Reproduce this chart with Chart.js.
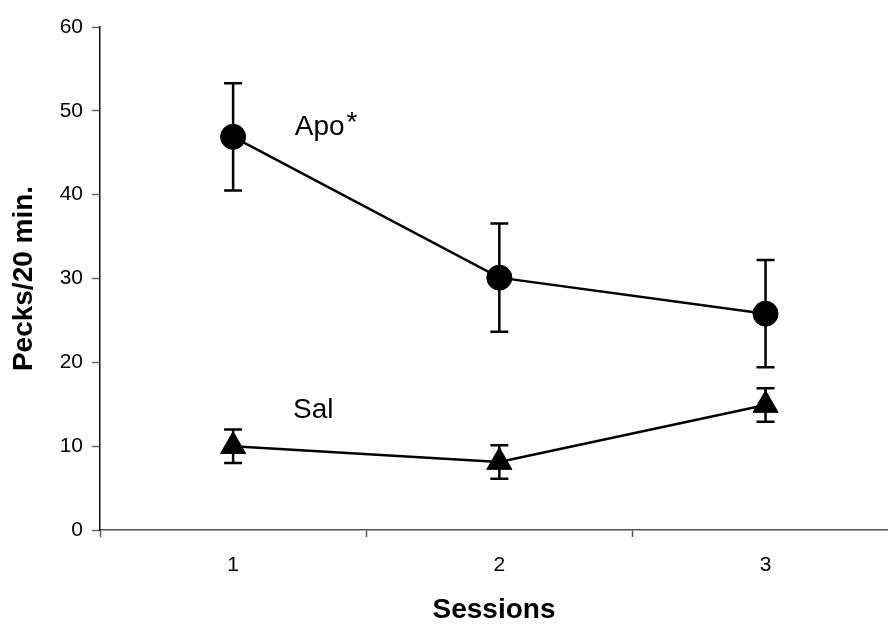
<!DOCTYPE html>
<html>
<head>
<meta charset="utf-8">
<script src="https://cdn.jsdelivr.net/npm/chart.js@4"></script>
<style>
  html, body { margin: 0; padding: 0; background: #fff; overflow: hidden; }
  canvas { display: block; }
</style>
</head>
<body>
<canvas id="pecksChart" width="888" height="624"></canvas>
<script>
const sessions = ['1', '2', '3'];
const apoMeans = [46.9, 30.1, 25.8];
const apoErr = [6.4, 6.45, 6.4];
const salMeans = [10.0, 8.1, 14.9];
const salErr = [2.0, 2.0, 2.0];
const yTicks = [0, 10, 20, 30, 40, 50, 60];
// category centres plus the boundaries between them (tick marks)
const xTicks = [0.5, 1, 1.5, 2, 2.5, 3];

const FONT = '"Liberation Sans", Arial, sans-serif';

// error bars drawn under the markers
const errorBars = {
  id: 'errorBars',
  beforeDatasetsDraw(chart) {
    const { ctx, scales: { x, y } } = chart;
    const sets = [[apoMeans, apoErr], [salMeans, salErr]];
    ctx.save();
    ctx.strokeStyle = '#000';
    ctx.lineWidth = 2.5;
    sets.forEach(([means, errs]) => {
      means.forEach((m, i) => {
        const px = x.getPixelForValue(Number(sessions[i]));
        const top = y.getPixelForValue(m + errs[i]);
        const bot = y.getPixelForValue(m - errs[i]);
        ctx.beginPath();
        ctx.moveTo(px, top); ctx.lineTo(px, bot);
        ctx.moveTo(px - 9, top); ctx.lineTo(px + 9, top);
        ctx.moveTo(px - 9, bot); ctx.lineTo(px + 9, bot);
        ctx.stroke();
      });
    });
    ctx.restore();
  }
};

// series names written next to the lines
const seriesLabels = {
  id: 'seriesLabels',
  afterDatasetsDraw(chart) {
    const { ctx, scales: { x, y } } = chart;
    ctx.save();
    ctx.fillStyle = '#000';
    ctx.textBaseline = 'alphabetic';
    ctx.font = '28px ' + FONT;
    const ax = x.getPixelForValue(1.232);
    const ay = y.getPixelForValue(47.1);
    ctx.fillText('Apo', ax, ay);
    ctx.fillText('*', ax + ctx.measureText('Apo ').width - 6, ay - 4);
    ctx.fillText('Sal', x.getPixelForValue(1.225), y.getPixelForValue(13.4));
    ctx.restore();
  }
};

new Chart(document.getElementById('pecksChart'), {
  type: 'line',
  data: {
    labels: sessions,
    datasets: [
      {
        label: 'Apo',
        data: apoMeans,
        borderColor: '#000',
        borderWidth: 2.5,
        backgroundColor: '#000',
        pointStyle: 'circle',
        pointRadius: 12.5,
        pointBorderWidth: 1,
        pointBackgroundColor: '#000',
        pointBorderColor: '#000',
        tension: 0
      },
      {
        label: 'Sal',
        data: salMeans,
        borderColor: '#000',
        borderWidth: 2.5,
        backgroundColor: '#000',
        pointStyle: 'triangle',
        pointRadius: 14.5,
        pointBorderWidth: 1,
        pointBackgroundColor: '#000',
        pointBorderColor: '#000',
        tension: 0
      }
    ]
  },
  options: {
    responsive: false,
    devicePixelRatio: 1,
    animation: false,
    layout: { autoPadding: false, padding: { left: 0, top: 27, right: 0, bottom: 0 } },
    scales: {
      x: {
        type: 'linear',
        min: 0.5,
        max: 3.46,
        afterBuildTicks: scale => { scale.ticks = xTicks.map(v => ({ value: v })); },
        grid: {
          drawOnChartArea: false,
          drawTicks: true,
          tickLength: 7,
          tickWidth: 1.5,
          tickColor: c => (Number.isInteger(c.tick.value) ? 'rgba(0,0,0,0)' : '#555')
        },
        border: { color: '#555', width: 1.5 },
        ticks: {
          color: '#000',
          font: { family: FONT, size: 21 },
          padding: 16,
          autoSkip: false,
          maxRotation: 0,
          callback: v => (Number.isInteger(v) ? sessions[v - 1] : '')
        },
        title: { display: true, text: 'Sessions', color: '#000', font: { family: FONT, size: 28, weight: 'bold' }, padding: { top: 0, bottom: -3 } },
        afterFit: scale => {
          scale.height = 94;
          scale.paddingLeft = 0;
          scale.paddingRight = 0;
        }
      },
      y: {
        min: 0,
        max: 60,
        afterBuildTicks: scale => { scale.ticks = yTicks.map(v => ({ value: v })); },
        grid: { drawOnChartArea: false, drawTicks: true, tickLength: 8, tickColor: '#666', tickWidth: 1.5 },
        border: { color: '#111', width: 1.5 },
        ticks: { color: '#000', font: { family: FONT, size: 21 }, padding: 9 },
        title: { display: true, text: 'Pecks/20 min.', color: '#000', font: { family: FONT, size: 28, weight: 'bold' }, padding: { top: 7, bottom: 0 } },
        afterFit: scale => { scale.width = 100; }
      }
    },
    plugins: {
      legend: { display: false },
      tooltip: { enabled: false }
    }
  },
  plugins: [errorBars, seriesLabels]
});
</script>
</body>
</html>
